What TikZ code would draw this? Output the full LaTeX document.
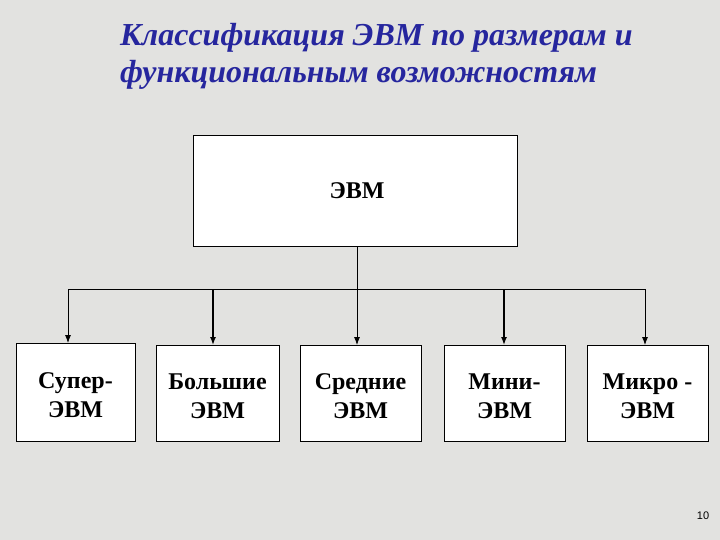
\documentclass[tikz,border=0pt]{standalone}
\usepackage{fontspec}
\setmainfont{Liberation Serif}
\newfontfamily\pgnumfont{Liberation Sans}
\usetikzlibrary{arrows.meta}
\definecolor{bgcol}{RGB}{226,226,224}
\definecolor{titleblue}{RGB}{38,38,158}
\begin{document}
\begin{tikzpicture}[x=1pt,y=-1pt,
  box/.style={draw=black,line width=0.8pt,fill=white,inner sep=0pt,outer sep=0pt},
  lbl/.style={font=\bfseries\fontsize{24}{29}\selectfont,align=center},
  conn/.style={line width=0.8pt,-{Latex[length=8pt,width=6pt]}},
  thick conn/.style={line width=1.4pt,-{Latex[length=8pt,width=6pt]}}]
\fill[bgcol] (0,0) rectangle (720,540);
\useasboundingbox (0,0) rectangle (720,540);
% title
\node[anchor=base west,text=titleblue,font=\bfseries\itshape\fontsize{32}{38}\selectfont,inner sep=0pt] (t1) at (120,46) {Классификация ЭВМ по размерам и};
\node[anchor=base west,text=titleblue,font=\bfseries\itshape\fontsize{32}{38}\selectfont,inner sep=0pt] (t2) at (120,83) {функциональным возможностям};
% top box
\node[box,minimum width=324pt,minimum height=111pt] (top) at (355,190.5) {};
\node[font=\bfseries\fontsize{24}{29}\selectfont] (toplbl) at (357,191) {ЭВМ};
% children
\node[box,minimum width=119pt,minimum height=98pt] (b1) at (75.5,392) {};
\node[box,minimum width=123pt,minimum height=96pt] (b2) at (217.5,393) {};
\node[box,minimum width=121pt,minimum height=96pt] (b3) at (360.5,393) {};
\node[box,minimum width=121pt,minimum height=96pt] (b4) at (504.5,393) {};
\node[box,minimum width=121pt,minimum height=96pt] (b5) at (647.5,393) {};
\node[lbl] (l1) at (75.5,395) {Супер-\\ЭВМ};
\node[lbl] (l2) at (217.5,396) {Большие\\ЭВМ};
\node[lbl] (l3) at (360.5,396) {Средние\\ЭВМ};
\node[lbl] (l4) at (504.5,396) {Мини-\\ЭВМ};
\node[lbl] (l5) at (647.5,396) {Микро -\\ЭВМ};
% connectors
\coordinate (j) at (357,289);
\coordinate (h1) at (68,289);
\coordinate (h2) at (213,289);
\coordinate (h4) at (504,289);
\coordinate (h5) at (645,289);
\draw[line width=0.8pt] (top.south -| j) -- (j);
\draw[line width=0.8pt] (h1) -- (h5);
\draw[conn] (h1) -- (h1 |- b1.north);
\draw[thick conn] (h2) -- (h2 |- b2.north);
\draw[conn] (j) -- (j |- b3.north);
\draw[thick conn] (h4) -- (h4 |- b4.north);
\draw[conn] (h5) -- (h5 |- b5.north);
% page number
\node[font=\pgnumfont\fontsize{11}{13}\selectfont] (pg) at (703,516) {10};
\end{tikzpicture}
\end{document}
